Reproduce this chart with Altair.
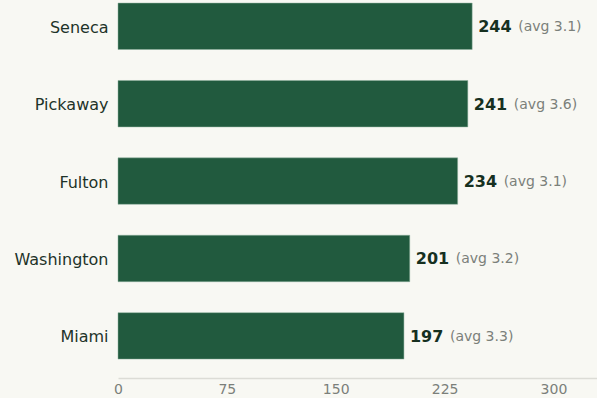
import altair as alt
import pandas as pd

counties = ["Seneca", "Pickaway", "Fulton", "Washington", "Miami"]
counts = [244, 241, 234, 201, 197]
avgs = [3.1, 3.6, 3.1, 3.2, 3.3]
ticks = [0, 75, 150, 225, 300]

df = pd.DataFrame({"county": counties, "count": counts, "avg": avgs})
df["avg_label"] = df["avg"].map(lambda v: f"(avg {v:.1f})")

FONT = "DejaVu Sans"

y = alt.Y("county:N", sort=counties, title=None,
          scale=alt.Scale(paddingInner=0.4, paddingOuter=0.142, align=0.14),
          axis=alt.Axis(domain=False, ticks=False, labelFontSize=16, labelFont=FONT,
                        labelColor="#1e3329", labelPadding=10, labelOffset=1.5))
x = alt.X("count:Q", title=None,
          scale=alt.Scale(domain=[0, 330], nice=False),
          axis=alt.Axis(values=ticks, grid=False, ticks=False, domainColor="#dcdcd6",
                        domainWidth=1.5, labelFontSize=14, labelFont=FONT,
                        labelColor="#7b7f7a", labelPadding=4, labelFlush=False))

base = alt.Chart(df)
bars = base.mark_bar(color="#215a3e", stroke="#8fb09e", strokeWidth=0.5).encode(x=x, y=y)
vals = base.mark_text(align="left", baseline="middle", dx=6, dy=1, fontSize=16,
                      fontWeight="bold", font=FONT, color="#16301f").encode(
    x="count:Q", y=alt.Y("county:N", sort=counties), text="count:Q")
avg_t = base.mark_text(align="left", baseline="middle", dx=46, dy=1, fontSize=14,
                       font=FONT, color="#7b807a").encode(
    x="count:Q", y=alt.Y("county:N", sort=counties), text="avg_label:N")

chart = (bars + vals + avg_t).properties(
    width=479, height=378,
    autosize=alt.AutoSizeParams(type="none"),
    padding={"left": 118, "top": 0, "right": 0, "bottom": 20},
    background="#f8f8f3",
).configure_view(stroke=None)

chart.save("out.html", embed_options={"renderer": "svg", "actions": False})
